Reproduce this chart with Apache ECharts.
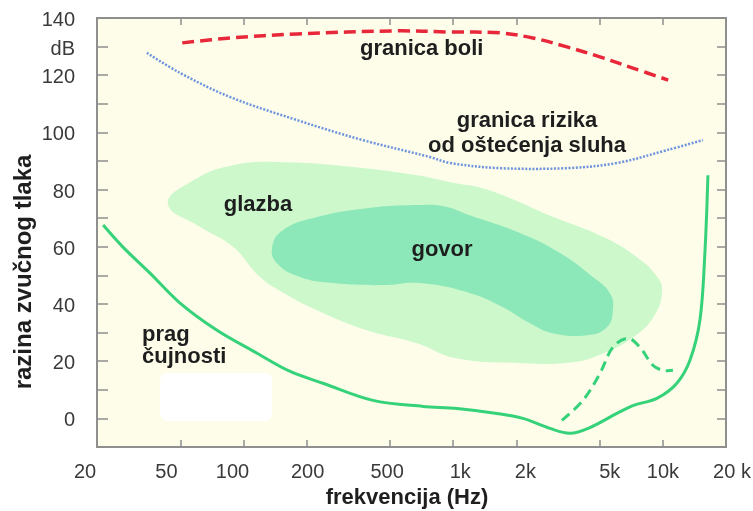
<!DOCTYPE html>
<html><head><meta charset="utf-8">
<script src="https://cdn.jsdelivr.net/npm/echarts@6/dist/echarts.min.js"></script>
<style>html,body{margin:0;padding:0;background:#fff}#c{width:753px;height:511px}</style>
</head><body><div id="c"></div>
<script>
// ---- data ----
const xLabelValues = [20, 50, 100, 200, 500, 1000, 2000, 5000, 10000, 20000];
const xLabelTexts = ['20', '50', '100', '200', '500', '1k', '2k', '5k', '10k', '20 k'];
const xTickValues = [50, 100, 200, 500, 1000, 2000, 5000, 10000];
const yMin = -10, yMax = 140, yStep = 10;
const yUnitValue = 130;
const yUnitLabel = 'dB';

const painThreshold = [[51,131.3],[86,133],[180,134.4],[539,135.5],[964,135.1],[1670,134.8],[2400,133],[3486,129.9],[5008,126.4],[7194,122.5],[10600,118.3]];
const riskThreshold = [[34.6,127.8],[49.8,120.8],[86,112.4],[180,104.3],[371,97.3],[774,91.4],[964,89.3],[1670,87.5],[3486,87.5],[6034,89.3],[10450,93.8],[15520,97.3]];
const hearingThreshold = [[21.4,67.6],[26.6,59.9],[35.8,50.8],[49.8,40.3],[74.7,30.8],[116,22.8],[166,16.5],[239,12.3],[414,6.3],[717,4.2],[1042,3.5],[1616,1.75],[2150,0],[2892,-3.5],[3603,-5.2],[4488,-3.2],[6034,1.75],[7194,4.5],[9360,7],[11660,12.3],[13460,20.3],[15016,34.3],[15860,57.8],[16400,85]];
const hearingThresholdAlt = [[3300,-0.7],[4156,6.3],[5008,15.7],[5778,24.9],[6812,28],[7768,24.9],[8960,18.6],[10006,16.8],[11166,16.8]];

const musicArea = [[43.6,75],[57,83],[89,88.5],[154,89.6],[322,88],[671,85],[964,82.6],[1450,80],[3000,70.4],[5200,63.4],[7500,56.4],[9400,49.4],[9900,44],[9000,35.4],[7200,28.4],[5200,22.8],[3700,19.6],[2150,19.3],[1040,21],[670,26.3],[388,30.8],[224,37.8],[154,44],[120,49.4],[89,60],[62,67]];
const speechArea = [[137,60],[154,65.8],[224,70.4],[388,73.5],[671,74.6],[900,74.2],[1200,71],[2080,64.8],[3228,57.8],[4638,49.4],[5588,43.8],[5778,37.8],[5408,31.9],[4342,29.1],[2990,29.8],[2322,33.3],[1726,38.9],[1202,43.8],[694,47.3],[462,46.6],[267,47.3],[186,49.4],[144,54.3]];
const whiteBox = [[40,-1],[137,16]];

// ---- style (label nudges in px, as placed in the original) ----
const xLabelNudge = [-12, -14, -11, 1, -3, 7, 9, 10, 0, 6];

// ---- chart ----
const chart = echarts.init(document.getElementById('c'), null, {renderer:'canvas'});
const FONT = '"Liberation Sans", Arial, sans-serif';
const axisGray = '#8f8f8f';

const xRich = {};
xLabelNudge.forEach((s, i) => {
  xRich['n' + i] = {fontSize:20, color:'#3a3a3a', fontFamily:FONT,
    padding: s < 0 ? [0, -2 * s, 0, 0] : [0, 0, 0, 2 * s]};
});
function xFmt(v){
  const i = xLabelValues.findIndex(t => Math.abs(t - v) / t < 1e-6);
  return i >= 0 ? '{n' + i + '|' + xLabelTexts[i] + '}' : '';
}
function yFmt(v){
  if (Math.abs(v - yUnitValue) < 1e-6) return '{y|' + yUnitLabel + '}';
  if (v >= 0 && Math.round(v) % 20 === 0) return '{y|' + Math.round(v) + '}';
  return '';
}

function polySeries(points, color){
  return {
    type:'custom', coordinateSystem:'cartesian2d', data:[0], clip:false, silent:true, z:1,
    renderItem:(params, api) => ({
      type:'polygon',
      shape:{points: points.map(p => api.coord(p)), smooth:0.45},
      style:{fill:color}
    })
  };
}
function curveSeries(points, color, width, dash){
  return {
    type:'custom', coordinateSystem:'cartesian2d', data:[0], clip:false, silent:true, z:3,
    renderItem:(params, api) => ({
      type:'polyline',
      shape:{points: points.map(p => api.coord(p)), smooth:0.35},
      style:{stroke:color, lineWidth:width, fill:null, lineDash:dash || null, lineCap:'butt', lineJoin:'round'}
    })
  };
}

const baseX = {
  type:'log', logBase:10, min:20, max:20000,
  axisLine:{show:true, onZero:false, lineStyle:{color:axisGray, width:2}},
  axisTick:{show:true, inside:true, length:7, customValues:xTickValues, lineStyle:{color:axisGray, width:1.5}},
  splitLine:{show:false}, minorTick:{show:false}
};
const baseY = {
  type:'value', min:yMin, max:yMax, interval:yStep,
  axisLine:{show:true, onZero:false, lineStyle:{color:axisGray, width:2}},
  axisTick:{show:true, inside:true, length:11, lineStyle:{color:axisGray, width:1.5}},
  splitLine:{show:false}
};

const option = {
  animation:false,
  backgroundColor:'#ffffff',
  grid:{left:97, right:27, top:18, bottom:64, outerBoundsMode:'none', containLabel:false, show:true, backgroundColor:'#fdfde9', borderColor:axisGray, borderWidth:2},
  xAxis:[
    Object.assign({}, baseX, {position:'bottom',
      axisLabel:{customValues:xLabelValues, formatter:xFmt, rich:xRich, fontSize:20, color:'#3a3a3a', margin:15, fontFamily:FONT, hideOverlap:false}}),
    Object.assign({}, baseX, {position:'top', axisLabel:{show:false}})
  ],
  yAxis:[
    Object.assign({}, baseY, {position:'left',
      axisLabel:{formatter:yFmt, rich:{y:{fontSize:20, color:'#3a3a3a', fontFamily:FONT, padding:[5,0,0,0]}}, fontSize:20, color:'#3a3a3a', margin:22, fontFamily:FONT}}),
    Object.assign({}, baseY, {position:'right', axisTick:{show:true, inside:true, length:9, lineStyle:{color:axisGray, width:1.5}}, axisLabel:{show:false}})
  ],
  series:[
    polySeries(musicArea, '#ccf8cc'),
    polySeries(speechArea, '#8de8b9'),
    {
      type:'custom', coordinateSystem:'cartesian2d', data:[0], clip:false, silent:true, z:1,
      renderItem:(params, api) => {
        const a = api.coord(whiteBox[0]), b = api.coord(whiteBox[1]);
        return {type:'rect', shape:{x:a[0], y:b[1], width:b[0]-a[0], height:a[1]-b[1], r:8}, style:{fill:'#ffffff'}};
      }
    },
    curveSeries(painThreshold, '#e8283a', 3.5, [12,6]),
    curveSeries(riskThreshold, '#6e94de', 2.5, [2,1.6]),
    curveSeries(hearingThreshold, '#35d27a', 3, null),
    curveSeries(hearingThresholdAlt, '#35d27a', 3, [10,6])
  ],
  graphic:[
    {type:'text', x:360, y:49, z:10, style:{text:'granica boli', font:'bold 22px '+FONT, fill:'#1e1e1e', align:'left', verticalAlign:'middle'}},
    {type:'text', x:527, y:121, z:10, style:{text:'granica rizika', font:'bold 22px '+FONT, fill:'#1e1e1e', align:'center', verticalAlign:'middle'}},
    {type:'text', x:527, y:146, z:10, style:{text:'od oštećenja sluha', font:'bold 22px '+FONT, fill:'#1e1e1e', align:'center', verticalAlign:'middle'}},
    {type:'text', x:258, y:205, z:10, style:{text:'glazba', font:'bold 22px '+FONT, fill:'#1e1e1e', align:'center', verticalAlign:'middle'}},
    {type:'text', x:442, y:250, z:10, style:{text:'govor', font:'bold 22px '+FONT, fill:'#1e1e1e', align:'center', verticalAlign:'middle'}},
    {type:'text', x:142, y:335, z:10, style:{text:'prag', font:'bold 22px '+FONT, fill:'#1e1e1e', align:'left', verticalAlign:'middle'}},
    {type:'text', x:142, y:357, z:10, style:{text:'čujnosti', font:'bold 22px '+FONT, fill:'#1e1e1e', align:'left', verticalAlign:'middle'}},
    {type:'text', x:407, y:498, z:10, style:{text:'frekvencija (Hz)', font:'bold 22px '+FONT, fill:'#1e1e1e', align:'center', verticalAlign:'middle'}},
    {type:'text', x:24, y:272, z:10, rotation:Math.PI/2, style:{text:'razina zvučnog tlaka', font:'bold 24px '+FONT, fill:'#1e1e1e', align:'center', verticalAlign:'middle'}}
  ]
};
chart.setOption(option);
</script></body></html>
